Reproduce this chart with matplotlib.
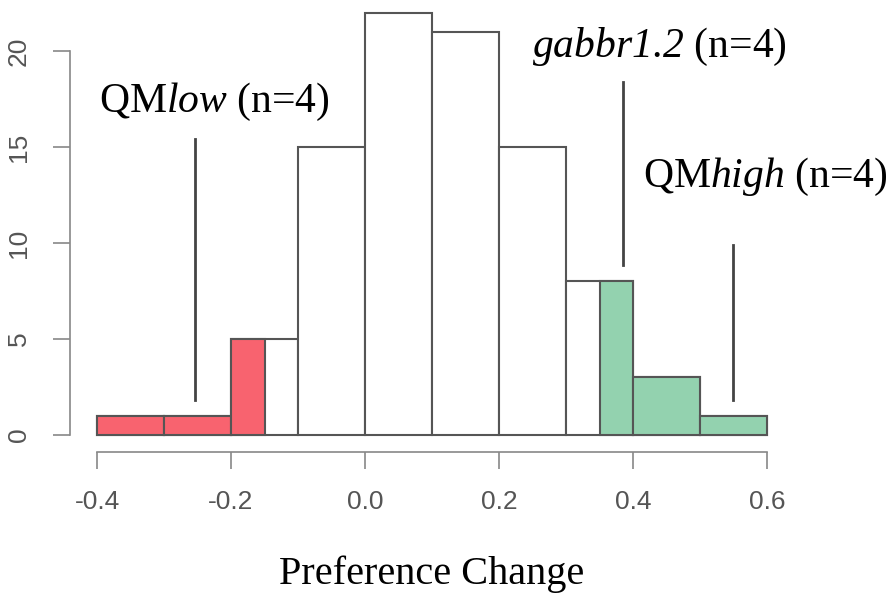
import numpy as np
import matplotlib.pyplot as plt

# italic serif for the gene / group names (digits in math go through 'rm')
plt.rcParams["mathtext.fontset"] = "custom"
plt.rcParams["mathtext.rm"] = "Liberation Serif:italic"
plt.rcParams["mathtext.it"] = "Liberation Serif:italic"

# histogram of preference change, bins of 0.1
bin_left = [-0.4, -0.3, -0.2, -0.1, 0.0, 0.1, 0.2, 0.3, 0.4, 0.5]
counts = [1, 1, 5, 15, 22, 21, 15, 8, 3, 1]
bin_width = 0.1

# highlighted tails (QMlow in red, QMhigh in green)
low_left = [-0.4, -0.3, -0.2]
low_width = [0.1, 0.1, 0.05]
low_counts = [1, 1, 5]
high_left = [0.35, 0.4, 0.5]
high_width = [0.05, 0.1, 0.1]
high_counts = [8, 3, 1]

x_ticks = [-0.4, -0.2, 0.0, 0.2, 0.4, 0.6]
x_tick_labels = ["-0.4", "-0.2", "0.0", "0.2", "0.4", "0.6"]
y_ticks = [0, 5, 10, 15, 20]

edge = "#555555"
fig = plt.figure(figsize=(8.91, 5.99), dpi=100)
ax = fig.add_axes([97 / 891, 1 - 435 / 599, 670 / 891, 22.6 * 19.2 / 599])

ax.bar(bin_left, counts, width=bin_width, align="edge", color="white",
       edgecolor=edge, linewidth=1.5, clip_on=False)
ax.bar(low_left, low_counts, width=low_width, align="edge", color="#F8636F",
       edgecolor=edge, linewidth=1.5, clip_on=False)
ax.bar(high_left, high_counts, width=high_width, align="edge", color="#93D2AF",
       edgecolor=edge, linewidth=1.5, clip_on=False)

ax.set_xlim(-0.4, 0.6)
ax.set_ylim(0, 22.6)

# R-style detached axes
for s in ["top", "right"]:
    ax.spines[s].set_visible(False)
ax.spines["left"].set_position(("outward", 19.5))
ax.spines["bottom"].set_position(("outward", 12.5))
ax.spines["left"].set_bounds(0, 20)
ax.spines["bottom"].set_bounds(-0.4, 0.6)
for s in ["left", "bottom"]:
    ax.spines[s].set_color("#888888")
    ax.spines[s].set_linewidth(1.2)

ax.set_xticks(x_ticks)
ax.set_xticklabels(x_tick_labels)
ax.set_yticks(y_ticks)
ax.set_yticklabels([str(v) for v in y_ticks], rotation=90, va="center")
ax.tick_params(colors="#888888", labelcolor="#555555", labelsize=19,
               length=12, width=1.2)
ax.tick_params(axis="x", pad=15)
ax.tick_params(axis="y", pad=16)
for lab in ax.get_xticklabels() + ax.get_yticklabels():
    lab.set_family("Liberation Sans")

ax.set_xlabel("Preference Change", family="Liberation Serif", fontsize=29,
              labelpad=30)

# annotations
serif = "Liberation Serif"
line_kw = dict(color="#444444", linewidth=2)
ax.plot([-0.254, -0.254], [1.8, 15.4], **line_kw)
ax.plot([0.385, 0.385], [8.85, 18.4], **line_kw)
ax.plot([0.549, 0.549], [1.8, 9.9], **line_kw)

ax.text(-0.225, 16.82, r"QM$\it{low}$ (n=4)", family=serif, fontsize=30,
        ha="center", va="baseline")
ax.text(0.440, 19.69, r"$\it{gabbr1.2}$ (n=4)", family=serif, fontsize=30,
        ha="center", va="baseline")
ax.text(0.598, 12.92, r"QM$\it{high}$ (n=4)", family=serif, fontsize=30,
        ha="center", va="baseline", clip_on=False)

fig.savefig("out.png", dpi=100)
